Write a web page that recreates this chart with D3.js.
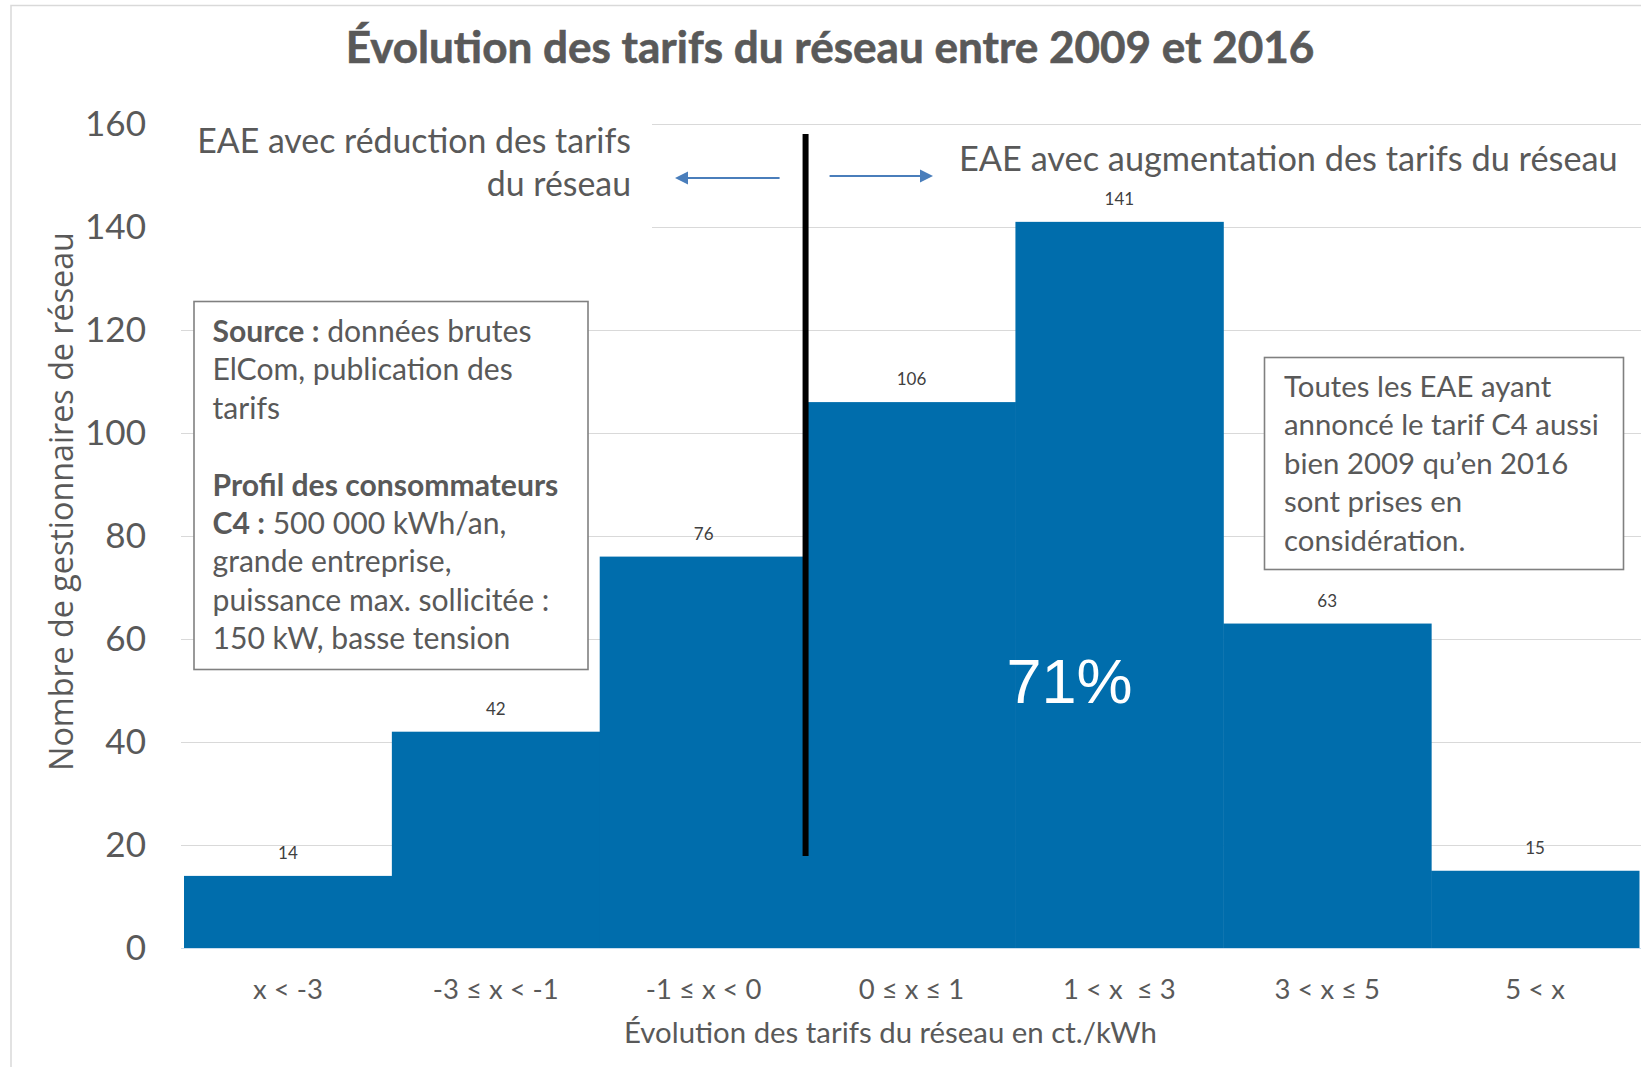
<!DOCTYPE html>
<html>
<head>
<meta charset="utf-8">
<script src="https://cdn.jsdelivr.net/npm/d3@7"></script>
<style>
  html, body { margin: 0; padding: 0; background: #ffffff; }
  svg { display: block; }
</style>
</head>
<body>
<svg id="chart" width="1641" height="1067"></svg>
<script>
// ---------------- data ----------------
const categories = ["x < -3", "-3 ≤ x < -1", "-1 ≤ x < 0", "0 ≤ x ≤ 1", "1 < x  ≤ 3", "3 < x ≤ 5", "5 < x"];
const values = [14, 42, 76, 106, 141, 63, 15];
const yTicks = [0, 20, 40, 60, 80, 100, 120, 140, 160];
const titleText = "Évolution des tarifs du réseau entre 2009 et 2016";
const xTitle = "Évolution des tarifs du réseau en ct./kWh";
const yTitle = "Nombre de gestionnaires de réseau";
const leftNote = ["EAE avec réduction des tarifs", "du réseau"];
const rightNote = "EAE avec augmentation des tarifs du réseau";
const shareLabel = "71%";
const sourceLines = [
  [["b", "Source :"], ["n", " données brutes"]],
  [["n", "ElCom, publication des"]],
  [["n", "tarifs"]],
  [],
  [["b", "Profil des consommateurs"]],
  [["b", "C4 :"], ["n", " 500 000 kWh/an,"]],
  [["n", "grande entreprise,"]],
  [["n", "puissance max. sollicitée :"]],
  [["n", "150 kW, basse tension"]]
];
const scopeLines = ["Toutes les EAE ayant", "annoncé le tarif C4 aussi", "bien 2009 qu’en 2016", "sont prises en", "considération."];

// ---------------- setup ----------------
const svg = d3.select("#chart");
const W = 1641, H = 1067;
const FONT = "Lato, 'Open Sans', sans-serif";
const GREY = "#595959";
const BAR = "#006dac";

function fit(sel, target) {
  const w = sel.node().getComputedTextLength();
  const fs = parseFloat(sel.attr("font-size"));
  const nfs = fs * target / w;
  sel.attr("font-size", nfs);
  return nfs;
}

// outer frame
svg.append("rect").attr("x", 11).attr("y", 5.5).attr("width", W + 10).attr("height", H + 10)
  .attr("fill", "none").attr("stroke", "#d9d9d9").attr("stroke-width", 1.5);

const x = d3.scaleBand().domain(categories).range([184, 1639]).padding(0);
const y = d3.scaleLinear().domain([0, 160]).range([948, 124]);

// gridlines
svg.append("g").selectAll("line").data(yTicks.filter(d => d > 0)).join("line")
  .attr("x1", 181).attr("x2", W)
  .attr("y1", d => y(d) + 0.5).attr("y2", d => y(d) + 0.5)
  .attr("stroke", "#d9d9d9").attr("stroke-width", 1.2);

// y axis labels
const yAxis = svg.append("g").attr("transform", "translate(181,0)")
  .call(d3.axisLeft(y).tickValues(yTicks).tickSize(0).tickPadding(35));
yAxis.select(".domain").remove();
yAxis.selectAll("text").attr("font-family", FONT).attr("font-size", 35).attr("fill", GREY);
{
  const t160 = yAxis.selectAll("text").filter(d => d === 160);
  const fs = fit(t160, 61);
  yAxis.selectAll("text").attr("font-size", fs);
}

// bars
svg.append("g").selectAll("rect").data(values).join("rect")
  .attr("x", (d, i) => x(categories[i]))
  .attr("y", d => y(d))
  .attr("width", x.bandwidth() + 0.5)
  .attr("height", d => y(0) - y(d))
  .attr("fill", BAR);

// baseline
svg.append("line").attr("x1", 181).attr("x2", W).attr("y1", y(0) + 0.5).attr("y2", y(0) + 0.5)
  .attr("stroke", "#c9ddef").attr("stroke-width", 1.2);

// value labels
svg.append("g").selectAll("text").data(values).join("text")
  .attr("x", (d, i) => x(categories[i]) + x.bandwidth() / 2)
  .attr("y", d => y(d) - 17)
  .attr("text-anchor", "middle")
  .attr("font-family", FONT).attr("font-size", 17).attr("fill", "#404040")
  .text(d => d);

// x axis labels
const xAxis = svg.append("g").attr("transform", `translate(0,${y(0)})`)
  .call(d3.axisBottom(x).tickSize(0));
xAxis.select(".domain").remove();
xAxis.selectAll("text").attr("y", 51).attr("dy", 0)
  .attr("font-family", FONT).attr("font-size", 24).attr("fill", GREY)
  .style("white-space", "pre").attr("xml:space", "preserve");
{
  const t = xAxis.selectAll("text").filter(d => d === categories[1]);
  const fs = fit(t, 126);
  xAxis.selectAll("text").attr("font-size", fs);
}

// x title
const xt = svg.append("text").attr("x", 890.5).attr("y", 1043).attr("text-anchor", "middle")
  .attr("font-family", FONT).attr("font-size", 28).attr("fill", GREY).text(xTitle);
fit(xt, 533);

// y title
const yt = svg.append("text").attr("transform", "translate(73,501.5) rotate(-90)")
  .attr("text-anchor", "middle")
  .attr("font-family", "'Open Sans', sans-serif").attr("font-size", 30).attr("fill", GREY).text(yTitle);
fit(yt, 539);

// title
const tt = svg.append("text").attr("x", 830).attr("y", 63).attr("text-anchor", "middle")
  .attr("font-family", FONT).attr("font-weight", "bold").attr("font-size", 42).attr("fill", GREY)
  .attr("stroke", GREY).attr("stroke-width", 0.6)
  .text(titleText);
fit(tt, 969);

// white background behind left note
svg.append("rect").attr("x", 178).attr("y", 112).attr("width", 652 - 178).attr("height", 125).attr("fill", "#ffffff");

// left note
const ln = svg.append("g");
const ln1 = ln.append("text").attr("x", 631).attr("y", 153).attr("text-anchor", "end")
  .attr("font-family", FONT).attr("font-size", 32).attr("fill", GREY).text(leftNote[0]);
const lfs = fit(ln1, 434);
ln.append("text").attr("x", 631).attr("y", 196).attr("text-anchor", "end")
  .attr("font-family", FONT).attr("font-size", lfs).attr("fill", GREY).text(leftNote[1]);

// right note
const rn = svg.append("text").attr("x", 959).attr("y", 171)
  .attr("font-family", FONT).attr("font-size", 32).attr("fill", GREY).text(rightNote);
fit(rn, 659);

// arrows
const defs = svg.append("defs");
defs.append("marker").attr("id", "ah").attr("viewBox", "0 0 10 10").attr("refX", 8).attr("refY", 5)
  .attr("markerWidth", 6).attr("markerHeight", 6).attr("orient", "auto")
  .append("path").attr("d", "M0,0 L10,5 L0,10 z").attr("fill", "#4a7ebb");
const divX = x(categories[3]) - 2;
svg.append("line").attr("x1", divX - 26).attr("x2", divX - 128).attr("y1", 178).attr("y2", 178)
  .attr("stroke", "#4a7ebb").attr("stroke-width", 2.2).attr("marker-end", "url(#ah)");
svg.append("line").attr("x1", divX + 24).attr("x2", divX + 125).attr("y1", 176).attr("y2", 176)
  .attr("stroke", "#4a7ebb").attr("stroke-width", 2.2).attr("marker-end", "url(#ah)");

// black divider
svg.append("line").attr("x1", divX).attr("x2", divX).attr("y1", 134).attr("y2", 856)
  .attr("stroke", "#000000").attr("stroke-width", 6);

// 71% label
svg.append("text").attr("x", x(categories[4]) + x.bandwidth() * 0.26).attr("y", y(47.6))
  .attr("text-anchor", "middle").attr("font-family", "'Liberation Sans', Arial, sans-serif")
  .attr("font-size", 63).attr("fill", "#ffffff").text(shareLabel);

// source box
svg.append("rect").attr("x", 194).attr("y", 301.5).attr("width", 394).attr("height", 368)
  .attr("fill", "#ffffff").attr("stroke", "#808080").attr("stroke-width", 1.6);
const sg = svg.append("g");
const sTexts = [];
sourceLines.forEach((parts, i) => {
  const t = sg.append("text").attr("x", 212.5).attr("y", 342 + i * 38.4)
    .attr("font-family", FONT).attr("font-size", 28).attr("fill", GREY).attr("xml:space", "preserve");
  parts.forEach(p => {
    t.append("tspan").attr("font-weight", p[0] === "b" ? "bold" : "normal").text(p[1]);
  });
  sTexts.push(t);
});
{
  const sfs = fit(sTexts[7], 337);
  sTexts.forEach(t => t.attr("font-size", sfs));
}

// scope box
svg.append("rect").attr("x", 1264.5).attr("y", 357.5).attr("width", 359).attr("height", 212)
  .attr("fill", "#ffffff").attr("stroke", "#808080").attr("stroke-width", 1.6);
const cg = svg.append("g");
const cTexts = scopeLines.map((l, i) => cg.append("text").attr("x", 1284).attr("y", 397 + i * 38.4)
  .attr("font-family", FONT).attr("font-size", 28).attr("fill", GREY).text(l));
{
  const cfs = fit(cTexts[1], 315);
  cTexts.forEach(t => t.attr("font-size", cfs));
}
</script>
</body>
</html>
